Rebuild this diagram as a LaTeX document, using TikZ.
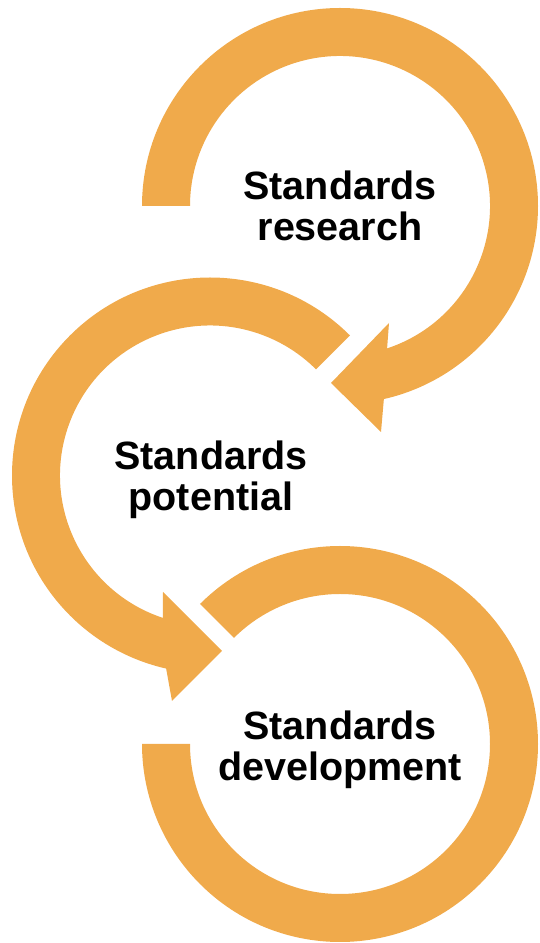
\documentclass[tikz,border=0pt]{standalone}
\usepackage{fontspec}
\setmainfont{Liberation Sans}
\definecolor{arrowc}{RGB}{240,170,75}
\begin{document}
\begin{tikzpicture}[x=1pt,y=1pt,
  ringarrow/.style={fill=arrowc,draw=none},
  label/.style={anchor=north,inner sep=0pt,align=center,
    font=\fontsize{39.5}{40.5}\selectfont\bfseries,text=black}]
\useasboundingbox (0,0) rectangle (539,943);
\coordinate (c1) at (340,737);
\coordinate (c2) at (210,467.5);
\coordinate (c3) at (340,199);
% ring 1 with arrowhead
\fill[ringarrow] ([shift={(180:198)}]c1) arc[start angle=180,end angle=-77.2,radius=198]
  -- (381,511) -- (331,560) -- (389,620)
  -- ([shift={(-71.7:150)}]c1) arc[start angle=-71.7,end angle=180,radius=150] -- cycle;
% ring 2 with arrowhead
\fill[ringarrow] ([shift={(45:198)}]c2) arc[start angle=45,end angle=257.2,radius=198]
  -- (172,242) -- (222,292) -- (163,351)
  -- ([shift={(251.7:150)}]c2) arc[start angle=251.7,end angle=45,radius=150] -- cycle;
% ring 3
\fill[ringarrow] ([shift={(135:198)}]c3) arc[start angle=135,end angle=-180,radius=198]
  -- ([shift={(180:150)}]c3) arc[start angle=-180,end angle=135,radius=150] -- cycle;
\node[label] (t1) at (340,772) {Standards\\research};
\node[label] (t2) at (211,502) {Standards\\potential};
\node[label] (t3) at (340,232) {Standards\\development};
\end{tikzpicture}
\end{document}
